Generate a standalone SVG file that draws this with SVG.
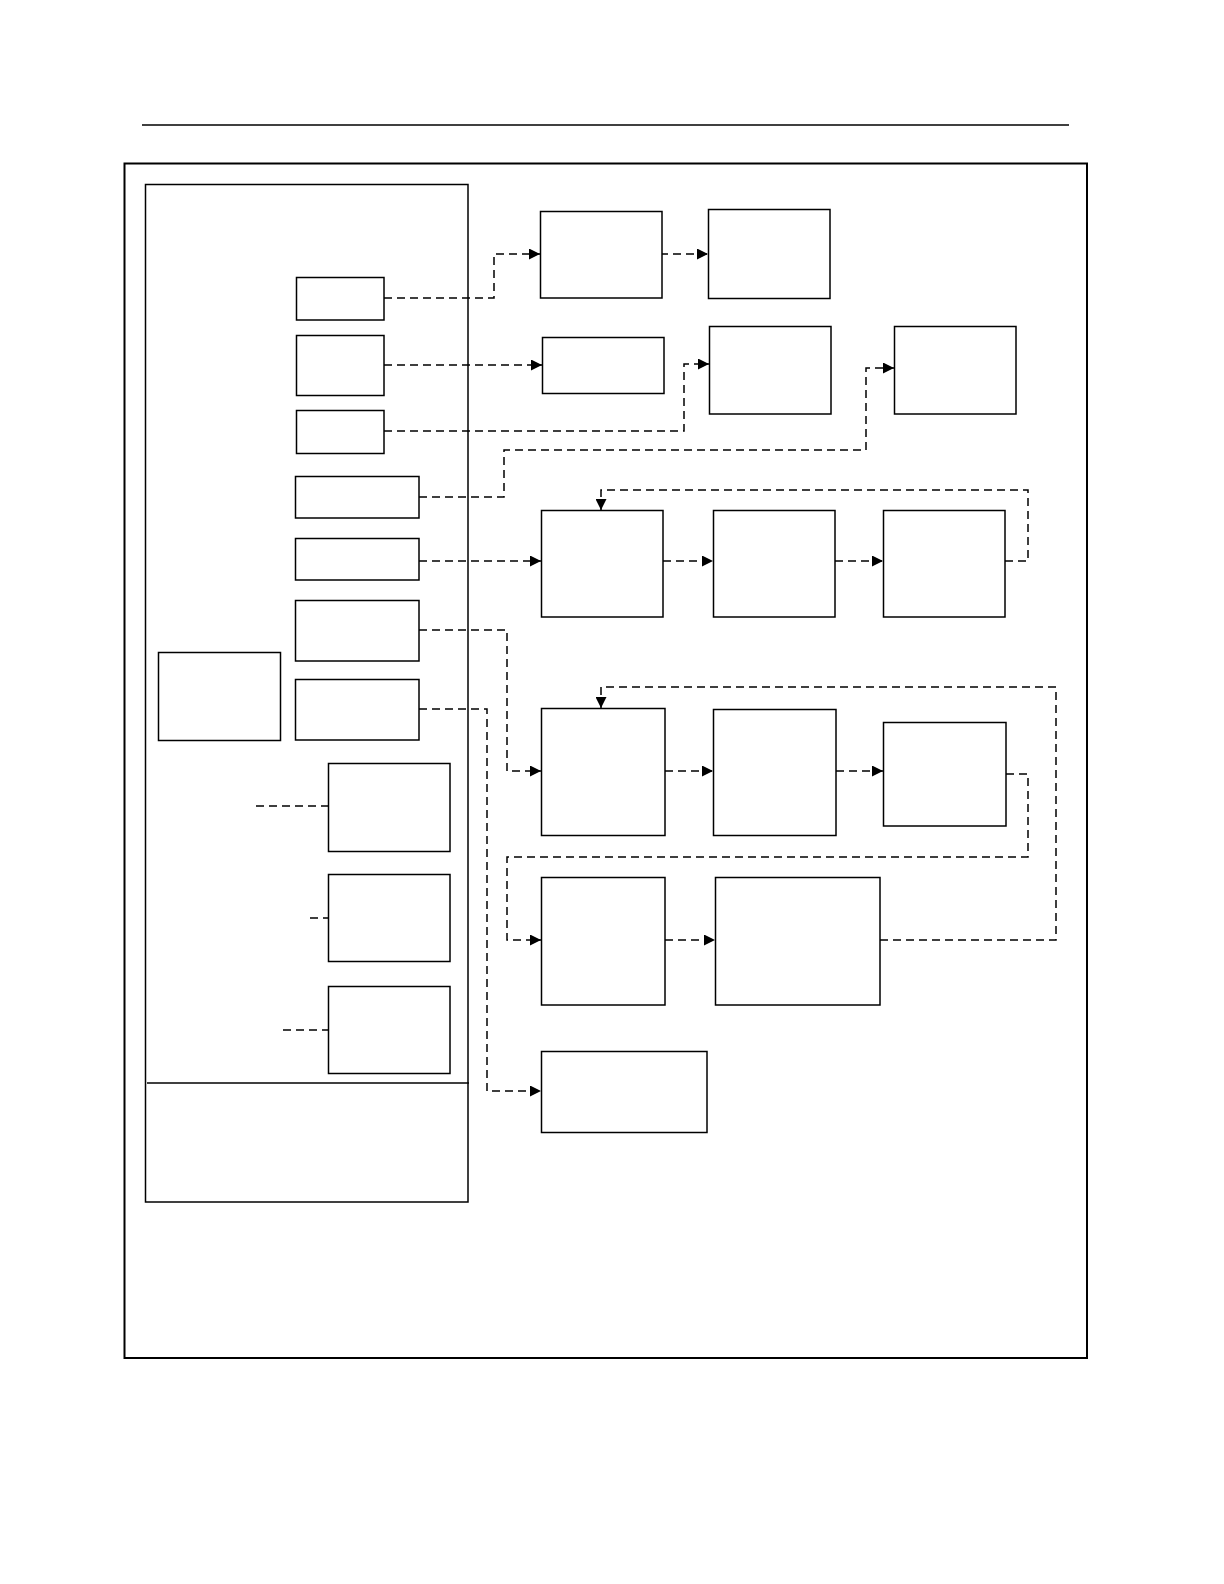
<svg xmlns="http://www.w3.org/2000/svg" width="1224" height="1584" viewBox="0 0 1224 1584">
<style>
.n{fill:#fff;stroke:#000;stroke-width:1.5}
.c{fill:none;stroke:#000;stroke-width:1.5;stroke-dasharray:8,5}
.f{fill:none;stroke:#000}
</style>
<defs>
<marker id="ah" viewBox="0 0 10 10" refX="10" refY="5" markerWidth="11" markerHeight="11" markerUnits="userSpaceOnUse" orient="auto">
<path d="M0,0 L10,5 L0,10 Z" fill="#000"/>
</marker>
</defs>
<rect width="1224" height="1584" fill="#fff"/>
<line x1="142" y1="125" x2="1069" y2="125" class="f" stroke-width="1.5"/>
<rect id="frame" x="124.5" y="163.5" width="962.5" height="1194.5" class="f" stroke-width="2"/>
<g id="panel">
<rect x="145.5" y="184.5" width="322.5" height="1017.5" class="f" stroke-width="1.5"/>
<line x1="147" y1="1083" x2="469" y2="1083" class="f" stroke-width="1.5"/>
</g>
<g id="connectors">
<path class="c" d="M384,298 H494 V254 H540" marker-end="url(#ah)"/>
<path class="c" d="M660,254 H708" marker-end="url(#ah)"/>
<path class="c" d="M384,365 H542" marker-end="url(#ah)"/>
<path class="c" d="M384,431 H684 V364 H709" marker-end="url(#ah)"/>
<path class="c" d="M419,497 H504 V450 H866 V368 H894" marker-end="url(#ah)"/>
<path class="c" d="M419,561 H541" marker-end="url(#ah)"/>
<path class="c" d="M663,561 H713" marker-end="url(#ah)"/>
<path class="c" d="M835,561 H883" marker-end="url(#ah)"/>
<path class="c" d="M1005,561 H1028 V490 H601 V510" marker-end="url(#ah)"/>
<path class="c" d="M419,630 H507 V771 H541" marker-end="url(#ah)"/>
<path class="c" d="M665,771 H713" marker-end="url(#ah)"/>
<path class="c" d="M836,771 H883" marker-end="url(#ah)"/>
<path class="c" d="M1006,774 H1028 V857 H507 V940 H541" marker-end="url(#ah)"/>
<path class="c" d="M665,940 H715" marker-end="url(#ah)"/>
<path class="c" d="M880,940 H1056 V687 H601 V708" marker-end="url(#ah)"/>
<path class="c" d="M419,709 H487 V1091 H541" marker-end="url(#ah)"/>
<path class="c" d="M256,806 H328"/>
<path class="c" d="M310,918 H328"/>
<path class="c" d="M283,1030 H328"/>
</g>
<g id="nA"><rect class="n" x="296.5" y="277.5" width="87.5" height="42.5"/></g>
<g id="nB"><rect class="n" x="296.5" y="335.5" width="87.5" height="60"/></g>
<g id="nC"><rect class="n" x="296.5" y="410.5" width="87.5" height="43"/></g>
<g id="nD"><rect class="n" x="295.5" y="476.5" width="123.5" height="41.5"/></g>
<g id="nE"><rect class="n" x="295.5" y="538.5" width="123.5" height="41.5"/></g>
<g id="nF"><rect class="n" x="295.5" y="600.5" width="123.5" height="60.5"/></g>
<g id="nG"><rect class="n" x="295.5" y="679.5" width="123.5" height="60.5"/></g>
<g id="nH"><rect class="n" x="158.5" y="652.5" width="122" height="88"/></g>
<g id="nI"><rect class="n" x="328.5" y="763.5" width="121.5" height="88"/></g>
<g id="nJ"><rect class="n" x="328.5" y="874.5" width="121.5" height="87"/></g>
<g id="nK"><rect class="n" x="328.5" y="986.5" width="121.5" height="87"/></g>
<g id="r1"><rect class="n" x="540.5" y="211.5" width="121.5" height="86.5"/></g>
<g id="r2"><rect class="n" x="708.5" y="209.5" width="121.5" height="89"/></g>
<g id="r3"><rect class="n" x="542.5" y="337.5" width="121.5" height="56"/></g>
<g id="r4"><rect class="n" x="709.5" y="326.5" width="121.5" height="87.5"/></g>
<g id="r5"><rect class="n" x="894.5" y="326.5" width="121.5" height="87.5"/></g>
<g id="r6"><rect class="n" x="541.5" y="510.5" width="121.5" height="106.5"/></g>
<g id="r7"><rect class="n" x="713.5" y="510.5" width="121.5" height="106.5"/></g>
<g id="r8"><rect class="n" x="883.5" y="510.5" width="121.5" height="106.5"/></g>
<g id="r9"><rect class="n" x="541.5" y="708.5" width="123.5" height="127"/></g>
<g id="r10"><rect class="n" x="713.5" y="709.5" width="122.5" height="126"/></g>
<g id="r11"><rect class="n" x="883.5" y="722.5" width="122.5" height="103.5"/></g>
<g id="r12"><rect class="n" x="541.5" y="877.5" width="123.5" height="127.5"/></g>
<g id="r13"><rect class="n" x="715.5" y="877.5" width="164.5" height="127.5"/></g>
<g id="r14"><rect class="n" x="541.5" y="1051.5" width="165.5" height="81"/></g>
</svg>
